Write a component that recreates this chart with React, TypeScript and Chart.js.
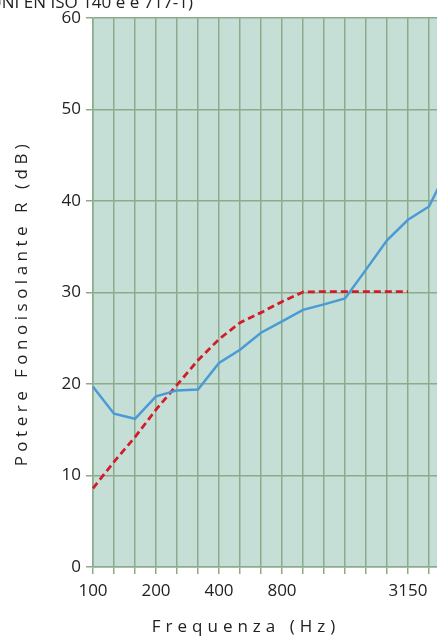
import { useEffect, useRef } from 'react';
import { Chart, registerables } from 'chart.js';

Chart.register(...registerables);

const frequencies = ['100', '125', '160', '200', '250', '315', '400', '500', '630', '800', '1000', '1250', '1600', '2000', '2500', '3150', '4000', '5000'];
const measuredR = [19.7, 16.75, 16.2, 18.65, 19.3, 19.4, 22.3, 23.75, 25.6, 26.85, 28.1, 28.7, 29.35, 32.5, 35.7, 37.95, 39.4, 44];
const referenceR = [8.6, 11.5, 14.2, 17.2, 19.9, 22.6, 24.9, 26.7, 27.8, 29.0, 30.05, 30.1, 30.1, 30.1, 30.1, 30.1, null, null];
const labeledFrequencies = ['100', '200', '400', '800', '3150'];
const yMin = 0;
const yMax = 60;
const yStep = 10;
const headerText = '(UNI EN ISO 140 e e 717-1)';
const xTitle = 'Frequenza (Hz)';
const yTitle = 'Potere Fonoisolante R (dB)';

const FONT = '"Open Sans", "Noto Sans", sans-serif';

const decorPlugin = {
  id: 'decor',
  beforeDraw(chart: any) {
    const { ctx, chartArea } = chart;
    ctx.save();
    ctx.fillStyle = '#c5dfd6';
    ctx.fillRect(chartArea.left, chartArea.top, chartArea.right - chartArea.left, chartArea.bottom - chartArea.top);
    ctx.restore();
  },
  afterDraw(chart: any) {
    const { ctx, chartArea } = chart;
    ctx.save();
    ctx.fillStyle = '#222222';
    ctx.font = `17px ${FONT}`;
    (ctx as any).letterSpacing = '0px';
    ctx.textAlign = 'right';
    ctx.textBaseline = 'alphabetic';
    ctx.fillText(headerText, chartArea.left + 100, chartArea.top - 10);

    ctx.textAlign = 'center';
    ctx.textBaseline = 'middle';
    (ctx as any).letterSpacing = '5px';
    ctx.fillText(xTitle, chartArea.left + 153, chartArea.bottom + 60);

    (ctx as any).letterSpacing = '4.5px';
    ctx.translate(chartArea.left - 71, chartArea.top + 285);
    ctx.rotate(-Math.PI / 2);
    ctx.fillText(yTitle, 0, 0);
    ctx.restore();
  },
};

export default function App() {
  const ref = useRef<HTMLCanvasElement | null>(null);

  useEffect(() => {
    if (!ref.current) return;
    const gridColor = '#8cab8c';
    const chart = new Chart(ref.current, {
      type: 'line',
      data: {
        labels: frequencies,
        datasets: [
          {
            label: 'R misurato',
            data: measuredR,
            borderColor: '#4a9ad6',
            borderWidth: 2.5,
            pointRadius: 0,
            tension: 0,
            fill: false,
          },
          {
            label: 'Curva di riferimento',
            data: referenceR,
            borderColor: '#d41b2a',
            borderWidth: 2.8,
            borderDash: [7, 4],
            pointRadius: 0,
            tension: 0,
            fill: false,
            spanGaps: false,
          },
        ],
      },
      options: {
        responsive: false,
        animation: false,
        devicePixelRatio: 1,
        layout: { padding: { top: 38, right: 10, left: 0, bottom: 0 } },
        plugins: {
          legend: { display: false },
          tooltip: { enabled: false },
          title: { display: false },
        },
        scales: {
          x: {
            type: 'category',
            offset: false,
            afterFit(scale: any) {
              scale.height = 70;
            },
            grid: {
              color: gridColor,
              lineWidth: 1.5,
              tickLength: 7,
              offset: false,
            },
            border: { color: gridColor, width: 1.5 },
            ticks: {
              autoSkip: false,
              maxRotation: 0,
              minRotation: 0,
              padding: 7,
              color: '#222222',
              font: { family: FONT, size: 17 },
              callback: (_v: any, idx: number) =>
                labeledFrequencies.includes(frequencies[idx]) ? frequencies[idx] : '',
            },
          },
          y: {
            min: yMin,
            max: yMax,
            afterFit(scale: any) {
              scale.width = 153;
            },
            grid: {
              color: gridColor,
              lineWidth: 1.5,
              tickLength: 7,
            },
            border: { color: gridColor, width: 1.5 },
            ticks: {
              stepSize: yStep,
              padding: 5,
              color: '#222222',
              font: { family: FONT, size: 17 },
            },
          },
        },
      },
      plugins: [decorPlugin],
    });
    return () => chart.destroy();
  }, []);

  return (
    <div style={{ position: 'fixed', left: 0, top: 0, width: 437, height: 637, overflow: 'hidden', background: '#ffffff' }}>
      <canvas
        ref={ref}
        width={520}
        height={657}
        style={{ position: 'absolute', left: -60, top: -20, width: 520, height: 657 }}
      />
    </div>
  );
}
